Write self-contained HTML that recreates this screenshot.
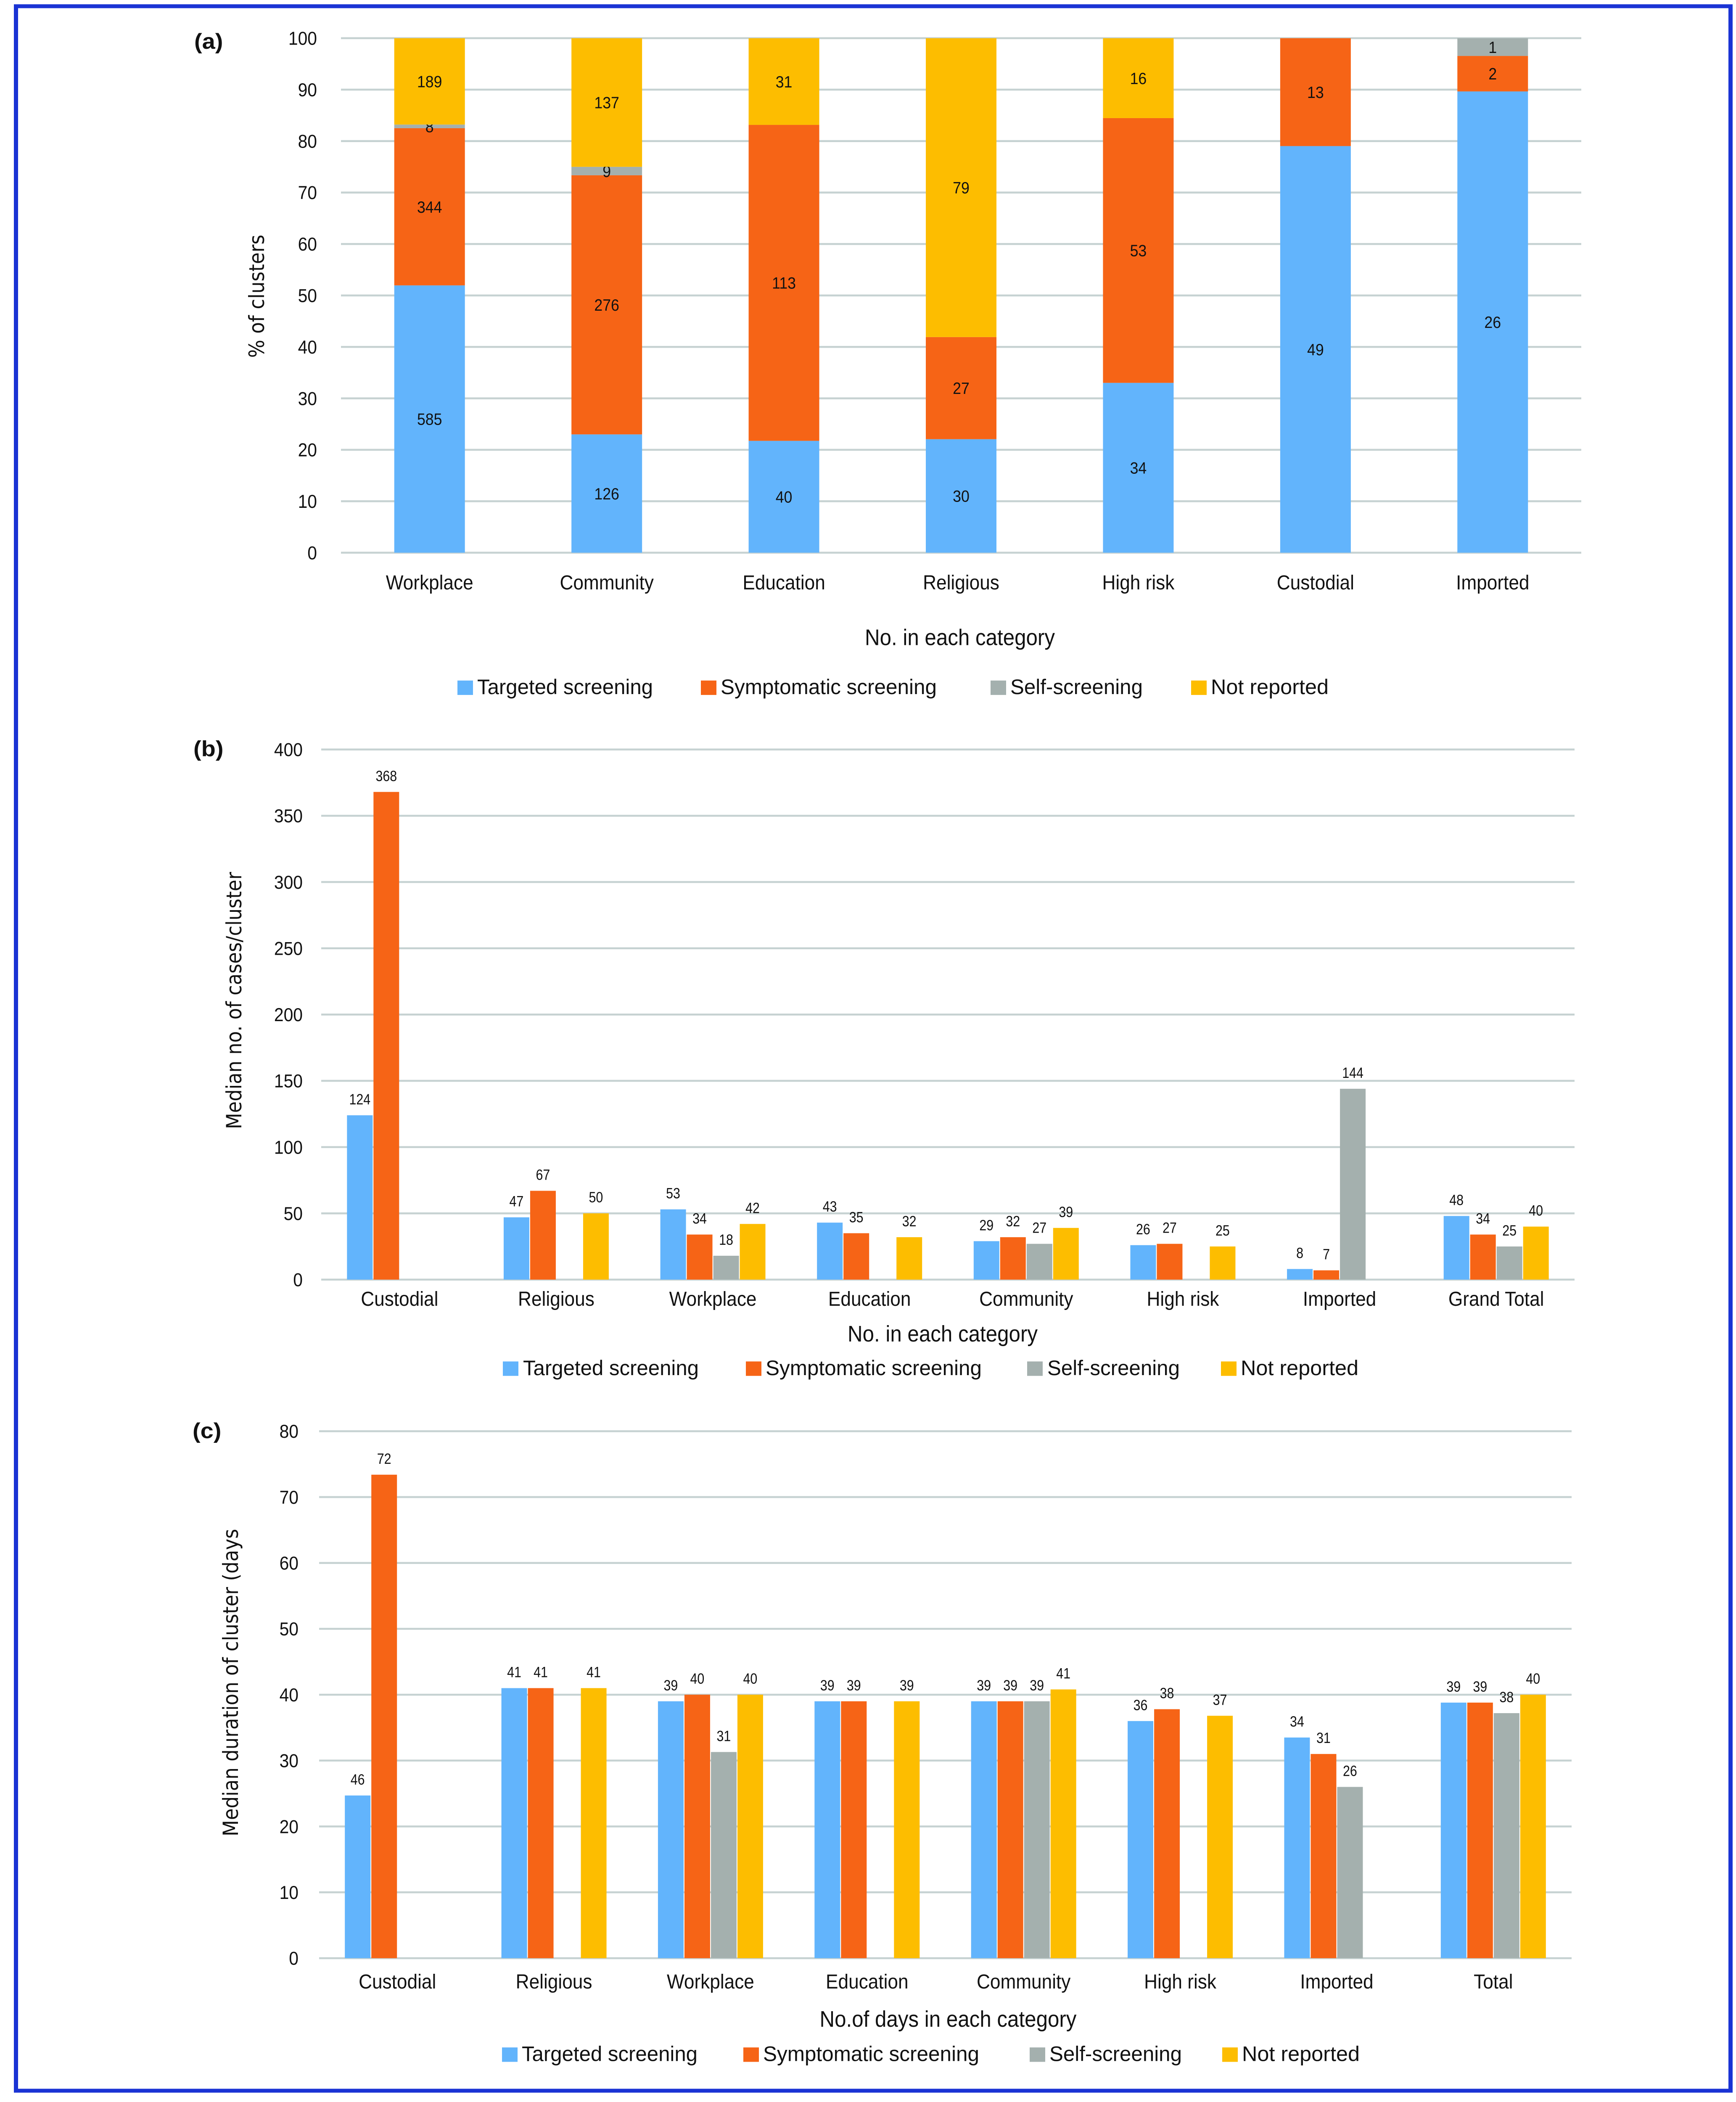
<!DOCTYPE html>
<html><head><meta charset="utf-8">
<style>
html,body{margin:0;padding:0;background:#fff;overflow:hidden;width:100%;height:100%;}
svg{display:block;position:absolute;left:0;top:0;width:100vw;height:100vh;}
text{font-family:"Liberation Sans Narrow","Liberation Sans",sans-serif;fill:#111;}
.yt{font-family:"DejaVu Sans","Liberation Sans",sans-serif;}
</style></head>
<body>
<svg id="fig" xmlns="http://www.w3.org/2000/svg" viewBox="0 0 4129 5393" preserveAspectRatio="none">
<rect x="38" y="16" width="4078" height="5348" fill="#fff" stroke="#1a33d4" stroke-width="10"/>
</svg>
<script>
// ---- Panel (a) data ----
const catsA = ["Workplace","Community","Education","Religious","High risk","Custodial","Imported"];
const targetedA = [585,126,40,30,34,49,26];
const symptomaticA = [344,276,113,27,53,13,2];
const selfA = [8,9,0,0,0,0,1];
const notRepA = [189,137,31,79,16,0,0];
const ticksA = [0,10,20,30,40,50,60,70,80,90,100];

// ---- Panel (b) data ----
const catsB = ["Custodial","Religious","Workplace","Education","Community","High risk","Imported","Grand Total"];
const targetedB = [124,47,53,43,29,26,8,48];
const symptomaticB = [368,67,34,35,32,27,7,34];
const selfB = [null,null,18,null,27,null,144,25];
const notRepB = [null,50,42,32,39,25,null,40];
const ticksB = [0,50,100,150,200,250,300,350,400];

// ---- Panel (c) data ----
const catsC = ["Custodial","Religious","Workplace","Education","Community","High risk","Imported","Total"];
const targetedC = [24.7,41,39,39,39,36,33.5,38.8];
const symptomaticC = [73.4,41,40,39,39,37.8,31,38.8];
const selfC = [null,null,31.3,null,39,null,26,37.2];
const notRepC = [null,41,40,39,40.8,36.8,null,40];
const targetedCLab = ["46","41","39","39","39","36","34","39"];
const symptomaticCLab = ["72","41","40","39","39","38","31","39"];
const selfCLab = [null,null,"31",null,"39",null,"26","38"];
const notRepCLab = [null,"41","40","39","41","37",null,"40"];
const ticksC = [0,10,20,30,40,50,60,70,80];

const seriesNames = ["Targeted screening","Symptomatic screening","Self-screening","Not reported"];
const COLORS = ["#62b4fc","#f66416","#a4b0ae","#fdbd00"];
const NS = "http://www.w3.org/2000/svg";
const svg = document.getElementById("fig");

function el(tag, attrs, parent, txt){
  const e = document.createElementNS(NS, tag);
  for (const k in attrs) e.setAttribute(k, attrs[k]);
  if (txt !== undefined) e.textContent = txt;
  (parent || svg).appendChild(e);
  return e;
}
function condense(t, f){
  try { const L = t.getComputedTextLength(); if (L > 0) { t.setAttribute("textLength", (L*f).toFixed(1)); t.setAttribute("lengthAdjust","spacingAndGlyphs"); } } catch(e){}
}

function axisFrame(g, cfg, ticks){
  ticks.forEach(t => {
    const y = cfg.yScale(t);
    const ln = el("line",{x1:cfg.left,x2:cfg.right,y1:y,y2:y,stroke:"#c6d2d2","stroke-width":5},g);
    
    
    const tx = el("text",{x:cfg.tickX,y:y+17,"text-anchor":"end","font-size":48},g,String(t));
    
    
    condense(tx,0.85);
  });
}

function catLabels(g, cfg, cats){
  cats.forEach((c,i)=>{
    const t = el("text",{x:cfg.xCenter(i),y:cfg.catY,"text-anchor":"middle","font-size":52},g,c);
    
    
    condense(t,0.85);
  });
}

const LEG_W = [418,514,315,280];
function legend(g, y, items){
  items.forEach((it,i)=>{
    const r = el("rect",{x:it.sx,y:y-37,width:37,height:37,fill:COLORS[i]},g);
    
    
    const t = el("text",{x:it.tx,y:y-2,"font-size":54,textLength:LEG_W[i],lengthAdjust:"spacingAndGlyphs"},g,seriesNames[i]);
    
    
  });
}

function titles(g, cfg){
  const p = el("text",{x:cfg.panelX,y:cfg.panelY,"font-size":56,"font-weight":"bold"},g,cfg.panel);
  
  
  const xt = el("text",{x:cfg.xTitleX,y:cfg.xTitleY,"text-anchor":"middle","font-size":58},g,cfg.xTitle);
  
  
  condense(xt,0.85);
  const yt = el("text",{x:0,y:0,"text-anchor":"middle","font-size":50,"class":"yt",textLength:cfg.yTitleLen,lengthAdjust:"spacingAndGlyphs","transform":`translate(${cfg.yTitleX},${cfg.yTitleY}) rotate(-90)`},g,cfg.yTitle);
  
  
}

// ---------- Panel (a) ----------
(function(){
  const g = el("g",{});
  
  
  const cfg = {left:811,right:3761,top:98,bottom:1418,tickX:754,catY:1512,
    panel:"(a)",panelX:462,panelY:125,xTitle:"No. in each category",xTitleX:2283,xTitleY:1655,
    yTitle:"% of clusters",yTitleX:628,yTitleY:760,yTitleLen:316};
  const bw = (cfg.right-cfg.left)/catsA.length;
  cfg.yScale = v => cfg.bottom - (v/100)*(cfg.bottom-cfg.top);
  cfg.xCenter = i => cfg.left + bw*(i+0.5);
  axisFrame(g,cfg,ticksA);
  const series = [targetedA,symptomaticA,selfA,notRepA];
  const barW = 168;
  catsA.forEach((c,i)=>{
    const total = series.reduce((s,a)=>s+a[i],0);
    let cum = 0;
    series.forEach((arr,s)=>{
      const v = arr[i];
      if (!v) return;
      const pct0 = cum/total*100, pct1 = (cum+v)/total*100;
      cum += v;
      const y0 = cfg.yScale(pct0), y1 = cfg.yScale(pct1);
      const r = el("rect",{x:cfg.xCenter(i)-barW/2,y:y1,width:barW,height:y0-y1,fill:COLORS[s]},g);
      
      
      const t = el("text",{x:cfg.xCenter(i),y:(y0+y1)/2+15,"text-anchor":"middle","font-size":42},g,String(v));
      
      
      condense(t,0.85);
    });
  });
  catLabels(g,cfg,catsA);
  titles(g,cfg);
  legend(g,1783,[{sx:1088,tx:1135},{sx:1667,tx:1714},{sx:2356,tx:2403},{sx:2833,tx:2880}]);
})();

function groupedChart(opts){
  const g = el("g",{});
  
  
  const cfg = opts.cfg;
  const bw = (cfg.right-cfg.left)/opts.cats.length;
  cfg.yScale = v => cfg.bottom - (v/opts.max)*(cfg.bottom-cfg.top);
  cfg.xCenter = i => cfg.left + bw*(i+0.5);
  axisFrame(g,cfg,opts.ticks);
  const barW = opts.barW;
  opts.cats.forEach((c,i)=>{
    opts.series.forEach((arr,s)=>{
      const v = arr[i];
      if (v === null || v === undefined) return;
      const x = cfg.xCenter(i) - 2*barW + s*barW;
      const y = cfg.yScale(v);
      const r = el("rect",{x:x+1,y:y,width:barW-2,height:cfg.bottom-y,fill:COLORS[s]},g);
      
      
      const lab = opts.labels ? opts.labels[s][i] : String(v);
      const t = el("text",{x:x+barW/2,y:y-28,"text-anchor":"middle","font-size":38},g,lab);
      
      
      condense(t,0.8);
    });
  });
  catLabels(g,cfg,opts.cats);
  titles(g,cfg);
  legend(g,opts.legY,opts.legItems);
}

// ---------- Panel (b) ----------
groupedChart({name:"chart-b-cases",cats:catsB,max:400,ticks:ticksB,barW:63,
  series:[targetedB,symptomaticB,selfB,notRepB],
  cfg:{left:764,right:3745,top:1923,bottom:3283,tickX:720,catY:3350,
    panel:"(b)",panelX:460,panelY:1940,xTitle:"No. in each category",xTitleX:2242,xTitleY:3442,
    yTitle:"Median no. of cases/cluster",yTitleX:574,yTitleY:2567,yTitleLen:660},
  legY:3530,legItems:[{sx:1196,tx:1244},{sx:1774,tx:1821},{sx:2443,tx:2491},{sx:2904,tx:2951}]});

// ---------- Panel (c) ----------
groupedChart({name:"chart-c-duration",cats:catsC,max:80,ticks:ticksC,barW:63,
  series:[targetedC,symptomaticC,selfC,notRepC],
  labels:[targetedCLab,symptomaticCLab,selfCLab,notRepCLab],
  cfg:{left:759,right:3738,top:3672,bottom:5024,tickX:710,catY:5102,
    panel:"(c)",panelX:458,panelY:3690,xTitle:"No.of days in each category",xTitleX:2255,xTitleY:5200,
    yTitle:"Median duration of cluster (days",yTitleX:566,yTitleY:4317,yTitleLen:789},
  legY:5290,legItems:[{sx:1194,tx:1241},{sx:1768,tx:1815},{sx:2449,tx:2496},{sx:2907,tx:2954}]});
</script>
</body></html>
